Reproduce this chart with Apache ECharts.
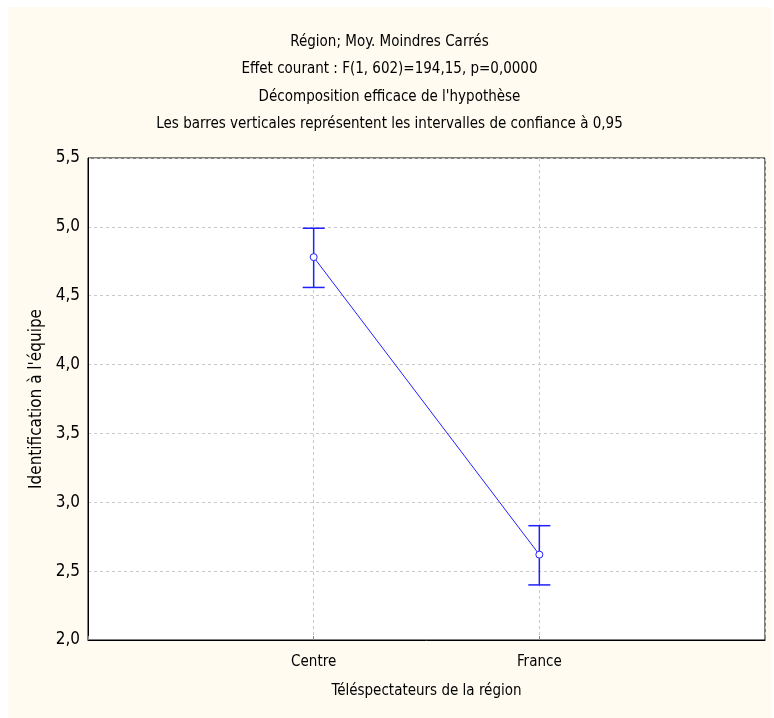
<!DOCTYPE html>
<html>
<head>
<meta charset="utf-8">
<script src="https://cdn.jsdelivr.net/npm/echarts@6/dist/echarts.min.js"></script>
<style>
  html, body { margin: 0; padding: 0; background: #fff; }
  #chart { position: absolute; left: 8px; top: 7px; width: 763px; height: 711px; background: #fffbf0; }
</style>
</head>
<body>
<div id="chart"></div>
<script>
var categories = ['Centre', 'France'];
var means = [4.78, 2.62];
var lower = [4.56, 2.40];
var upper = [4.99, 2.83];
var titleLines = [
  'Région; Moy. Moindres Carrés',
  'Effet courant : F(1, 602)=194,15, p=0,0000',
  'Décomposition efficace de l\'hypothèse',
  'Les barres verticales représentent les intervalles de confiance à 0,95'
];

var font = '"Liberation Sans Narrow", "DejaVu Sans Condensed", Arial, sans-serif';
var blue = '#2020ff';

var chart = echarts.init(document.getElementById('chart'));
var pts = means.map(function (m, i) { return [i + 1, m]; });
var bars = means.map(function (m, i) { return [i + 1, lower[i], upper[i]]; });

chart.setOption({
  animation: false,
  title: {
    text: titleLines.join('\n'),
    left: 'center',
    top: 16,
    textStyle: { fontFamily: font, fontSize: 15, fontWeight: 'normal', color: '#000', lineHeight: 27.5 }
  },
  grid: {
    left: 80, right: 6, top: 151, bottom: 78,
    show: true, backgroundColor: '#fff', borderColor: '#000', borderWidth: 1
  },
  xAxis: {
    type: 'value', min: 0, max: 3, interval: 1,
    name: 'Téléspectateurs de la région', nameLocation: 'middle', nameGap: 44,
    nameTextStyle: { fontFamily: font, fontSize: 15, color: '#000' },
    axisLine: { lineStyle: { color: '#000' } },
    axisTick: { inside: true, length: 4, lineStyle: { color: '#888' } },
    axisLabel: {
      fontFamily: font, fontSize: 15, color: '#000', margin: 15,
      formatter: function (v) { return categories[v - 1] || ''; }
    },
    splitLine: { show: true, lineStyle: { color: '#c8c8c8', type: [3, 3] } }
  },
  yAxis: {
    type: 'value', min: 2, max: 5.5, interval: 0.5,
    name: 'Identification à l\'équipe', nameLocation: 'middle', nameGap: 38,
    nameTextStyle: { fontFamily: font, fontSize: 17, color: '#000' },
    axisLine: { show: true, lineStyle: { color: '#000' } },
    axisTick: { show: false },
    axisLabel: {
      fontFamily: font, fontSize: 17, color: '#000', margin: 8,
      formatter: function (v) { return v.toFixed(1).replace('.', ','); }
    },
    splitLine: { show: true, lineStyle: { color: '#c8c8c8', type: [3, 3] } }
  },
  series: [
    {
      type: 'custom',
      data: bars,
      z: 3,
      renderItem: function (params, api) {
        var x = api.value(0);
        var lo = api.coord([x, api.value(1)]);
        var hi = api.coord([x, api.value(2)]);
        var w = 11;
        var st = { stroke: blue, lineWidth: 1.5 };
        return {
          type: 'group',
          children: [
            { type: 'line', shape: { x1: lo[0], y1: lo[1], x2: hi[0], y2: hi[1] }, style: st },
            { type: 'line', shape: { x1: lo[0] - w, y1: lo[1], x2: lo[0] + w, y2: lo[1] }, style: st },
            { type: 'line', shape: { x1: hi[0] - w, y1: hi[1], x2: hi[0] + w, y2: hi[1] }, style: st }
          ]
        };
      }
    },
    {
      type: 'line',
      data: pts,
      z: 4,
      symbol: 'circle',
      symbolSize: 7,
      showAllSymbol: true,
      lineStyle: { color: blue, width: 1 },
      itemStyle: { color: '#fff', borderColor: blue, borderWidth: 1 }
    }
  ]
});
</script>
</body>
</html>
